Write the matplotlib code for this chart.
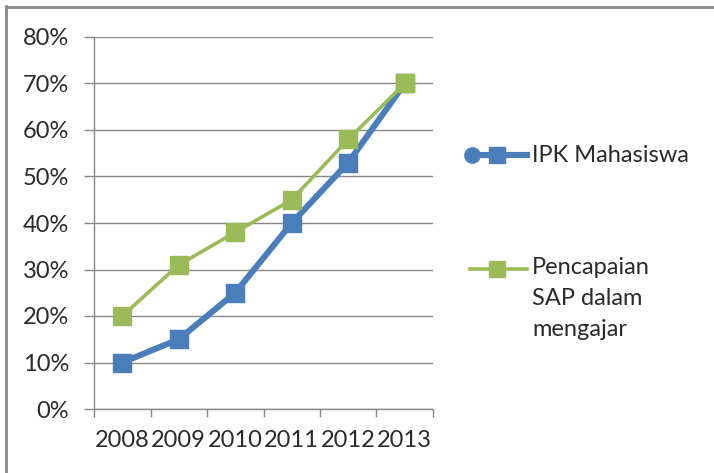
import matplotlib
matplotlib.use("Agg")
import matplotlib.pyplot as plt
from matplotlib.lines import Line2D
from matplotlib.ticker import FixedLocator, PercentFormatter

years = ["2008", "2009", "2010", "2011", "2012", "2013"]
ipk = [10, 15, 25, 40, 53, 70]
sap = [20, 31, 38, 45, 58, 70]
yticks = [0, 10, 20, 30, 40, 50, 60, 70, 80]
labels = ["IPK Mahasiswa", "Pencapaian\nSAP dalam\nmengajar"]

BLUE = "#4A7EBB"
GREEN = "#9BBB59"
TXT = "#2a2a2a"
FS = 17
W, H = 714, 473

plt.rcParams["font.family"] = ["Lato", "DejaVu Sans"]
fig = plt.figure(figsize=(W / 100, H / 100), dpi=100)
ax = fig.add_axes([94 / W, 1 - 409 / H, (433 - 94) / W, (409 - 37) / H])

x = list(range(len(years)))
ax.plot(x, ipk, color=BLUE, lw=4.4, marker="s", ms=13.5, zorder=3)
ax.plot(x, sap, color=GREEN, lw=2.6, marker="s", ms=13, zorder=4)

ax.set_xlim(-0.5, len(years) - 0.5)
ax.set_ylim(0, 80)
ax.set_yticks(yticks)
ax.yaxis.set_major_formatter(PercentFormatter(decimals=0))
ax.set_xticks(x)
ax.set_xticklabels(years)
ax.xaxis.set_minor_locator(FixedLocator([i - 0.5 for i in range(len(years) + 1)]))
ax.tick_params(axis="x", which="major", length=0, pad=15, labelsize=FS, labelcolor=TXT)
ax.tick_params(axis="x", which="minor", length=6, color="#888888", width=1)
ax.tick_params(axis="y", length=7, color="#888888", width=1, labelsize=FS, pad=11, labelcolor=TXT)
ax.grid(axis="y", color="#888888", lw=1)
ax.set_axisbelow(True)
for s in ["top", "right"]:
    ax.spines[s].set_visible(False)
for s in ["left", "bottom"]:
    ax.spines[s].set_color("#888888")
    ax.spines[s].set_linewidth(1)

# figure border (top and left visible)
fig.add_artist(Line2D([6 / W, 6 / W], [0, 1 - 6 / H], transform=fig.transFigure, color="#888888", lw=2))
fig.add_artist(Line2D([6 / W, 1], [1 - 7 / H, 1 - 7 / H], transform=fig.transFigure, color="#888888", lw=2))

# legend drawn manually
def fx(px):
    return px / W

def fy(py):
    return 1 - py / H

ly1 = 155
fig.add_artist(Line2D([fx(470), fx(527)], [fy(ly1), fy(ly1)], transform=fig.transFigure, color=BLUE, lw=4.4))
fig.add_artist(Line2D([fx(497)], [fy(ly1)], transform=fig.transFigure, color=BLUE, marker="s", ms=12))
fig.add_artist(Line2D([fx(472)], [fy(ly1)], transform=fig.transFigure, color=BLUE, marker="o", ms=11))
fig.text(fx(532), fy(ly1), labels[0], fontsize=FS, color=TXT, va="center", ha="left")

ly2 = 269
fig.add_artist(Line2D([fx(470), fx(527)], [fy(ly2), fy(ly2)], transform=fig.transFigure, color=GREEN, lw=2.6))
fig.add_artist(Line2D([fx(497)], [fy(ly2)], transform=fig.transFigure, color=GREEN, marker="s", ms=12))
fig.text(fx(532), fy(ly2 - 12), labels[1], fontsize=FS, color=TXT, va="top", ha="left",
         linespacing=1.6)

fig.savefig("out.png", dpi=100)
